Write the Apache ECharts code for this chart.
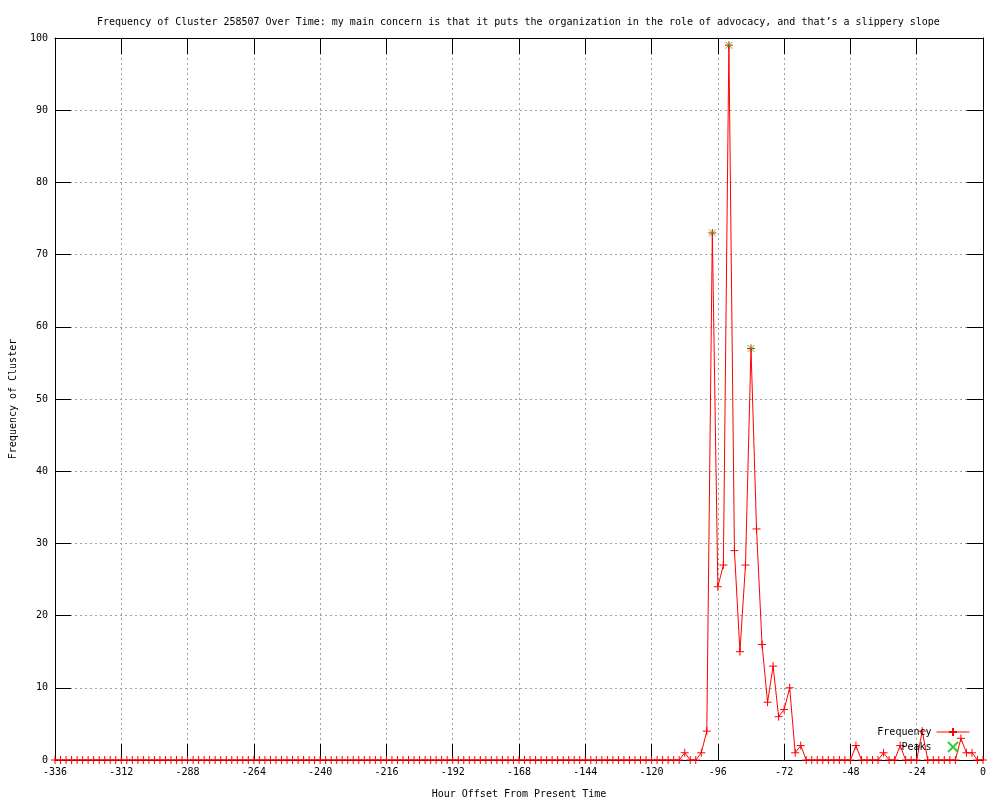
<!DOCTYPE html>
<html><head><meta charset="utf-8">
<script src="https://cdn.jsdelivr.net/npm/echarts@6/dist/echarts.min.js"></script>
<style>html,body{margin:0;padding:0;background:#fff}#c{width:1000px;height:800px}</style>
</head><body><div id="c"></div><script>
const titleText = 'Frequency of Cluster 258507 Over Time: my main concern is that it puts the organization in the role of advocacy, and that\u2019s a slippery slope';
const xName = 'Hour Offset From Present Time';
const yName = 'Frequency of Cluster';
const hours = [
  -336,-334,-332,-330,-328,-326,-324,-322,-320,-318,-316,-314,
  -312,-310,-308,-306,-304,-302,-300,-298,-296,-294,-292,-290,
  -288,-286,-284,-282,-280,-278,-276,-274,-272,-270,-268,-266,
  -264,-262,-260,-258,-256,-254,-252,-250,-248,-246,-244,-242,
  -240,-238,-236,-234,-232,-230,-228,-226,-224,-222,-220,-218,
  -216,-214,-212,-210,-208,-206,-204,-202,-200,-198,-196,-194,
  -192,-190,-188,-186,-184,-182,-180,-178,-176,-174,-172,-170,
  -168,-166,-164,-162,-160,-158,-156,-154,-152,-150,-148,-146,
  -144,-142,-140,-138,-136,-134,-132,-130,-128,-126,-124,-122,
  -120,-118,-116,-114,-112,-110,-108,-106,-104,-102,-100,-98,
  -96,-94,-92,-90,-88,-86,-84,-82,-80,-78,-76,-74,
  -72,-70,-68,-66,-64,-62,-60,-58,-56,-54,-52,-50,
  -48,-46,-44,-42,-40,-38,-36,-34,-32,-30,-28,-26,
  -24,-22,-20,-18,-16,-14,-12,-10,-8,-6,-4,-2,
  0
];
const frequency = [
  0,0,0,0,0,0,0,0,0,0,0,0,
  0,0,0,0,0,0,0,0,0,0,0,0,
  0,0,0,0,0,0,0,0,0,0,0,0,
  0,0,0,0,0,0,0,0,0,0,0,0,
  0,0,0,0,0,0,0,0,0,0,0,0,
  0,0,0,0,0,0,0,0,0,0,0,0,
  0,0,0,0,0,0,0,0,0,0,0,0,
  0,0,0,0,0,0,0,0,0,0,0,0,
  0,0,0,0,0,0,0,0,0,0,0,0,
  0,0,0,0,0,0,1,0,0,1,4,73,
  24,27,99,29,15,27,57,32,16,8,13,6,
  7,10,1,2,0,0,0,0,0,0,0,0,
  0,2,0,0,0,0,1,0,0,2,0,0,
  0,4,0,0,0,0,0,0,3,1,1,0,
  0
];
const peakHours = [-98, -92, -84];
const peakValues = [73, 99, 57];

const FONT = 'DejaVu Sans Mono';
const plusPath = 'path://M0,-1V1M-1,0H1';
const crossPath = 'path://M-1,-1L1,1M-1,1L1,-1';
const RED = '#ff0000';
const GREEN = '#00c000';

const chart = echarts.init(document.getElementById('c'), null, {renderer: 'canvas'});
const tickStyle = {show: true, inside: true, length: 16, lineStyle: {color: '#000', width: 1}};
const lineStyleAxis = {show: true, onZero: false, lineStyle: {color: '#000', width: 1}};
const splitStyle = {show: true, lineStyle: {color: '#a0a0a0', type: [2, 3], width: 1}};
chart.setOption({
  animation: false,
  backgroundColor: '#fff',
  textStyle: {fontFamily: FONT},
  title: {
    text: titleText, left: 92, top: 12,
    textStyle: {fontFamily: FONT, fontSize: 10, fontWeight: 'normal', color: '#000'}
  },
  legend: {
    data: ['Frequency', 'Peaks'],
    orient: 'vertical', align: 'right',
    right: 30, top: 727, padding: 0,
    itemWidth: 33, itemHeight: 10, itemGap: 4,
    lineStyle: {width: 1},
    textStyle: {fontFamily: FONT, fontSize: 10, color: '#000'}
  },
  grid: {left: 55, top: 38, width: 928, height: 722, containLabel: false, outerBoundsMode: 'none'},
  xAxis: [{
    type: 'value', min: -336, max: 0, interval: 24, position: 'bottom',
    name: xName, nameLocation: 'middle', nameGap: 29,
    nameTextStyle: {fontFamily: FONT, fontSize: 10, color: '#000'},
    axisLine: lineStyleAxis, axisTick: tickStyle,
    axisLabel: {fontFamily: FONT, fontSize: 10, color: '#000', margin: 7},
    splitLine: splitStyle
  }, {
    type: 'value', min: -336, max: 0, interval: 24, position: 'top',
    axisLine: lineStyleAxis, axisTick: tickStyle,
    axisLabel: {show: false}, splitLine: {show: false}
  }],
  yAxis: [{
    type: 'value', min: 0, max: 100, interval: 10, position: 'left',
    name: yName, nameLocation: 'middle', nameGap: 37,
    nameTextStyle: {fontFamily: FONT, fontSize: 10, color: '#000'},
    axisLine: lineStyleAxis, axisTick: tickStyle,
    axisLabel: {fontFamily: FONT, fontSize: 10, color: '#000', margin: 7},
    splitLine: splitStyle
  }, {
    type: 'value', min: 0, max: 100, interval: 10, position: 'right',
    axisLine: lineStyleAxis, axisTick: tickStyle,
    axisLabel: {show: false}, splitLine: {show: false}
  }],
  series: [{
    name: 'Frequency', type: 'line',
    data: hours.map((h, i) => [h, frequency[i]]),
    symbol: plusPath, symbolSize: 8, showAllSymbol: true,
    lineStyle: {color: RED, width: 1},
    itemStyle: {color: RED, borderColor: RED, borderWidth: 1},
    z: 3
  }, {
    name: 'Peaks', type: 'scatter',
    data: peakHours.map((h, i) => [h, peakValues[i]]),
    symbol: crossPath, symbolSize: 7,
    itemStyle: {color: GREEN, borderColor: GREEN, borderWidth: 1},
    z: 4
  }]
});
</script></body></html>
